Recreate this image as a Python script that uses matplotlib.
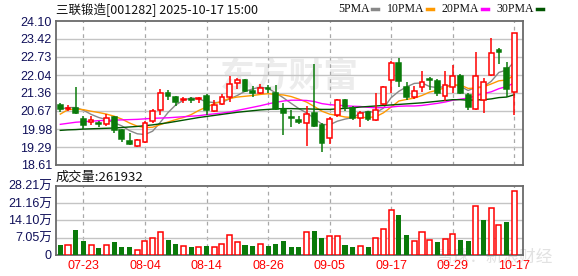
import matplotlib
matplotlib.use("Agg")
import matplotlib.pyplot as plt
from matplotlib.patches import Rectangle

plt.rcParams["font.family"] = ["Noto Sans CJK SC", "DejaVu Sans"]

TITLE = "三联锻造[001282] 2025-10-17 15:00"
VOLUME_TITLE = "成交量:261932"

dates = [
    "07-18", "07-21", "07-22", "07-23", "07-24", "07-25", "07-28", "07-29", "07-30", "07-31",
    "08-01", "08-04", "08-05", "08-06", "08-07", "08-08", "08-11", "08-12", "08-13", "08-14",
    "08-15", "08-18", "08-19", "08-20", "08-21", "08-22", "08-25", "08-26", "08-27", "08-28",
    "08-29", "09-01", "09-02", "09-03", "09-04", "09-05", "09-08", "09-09", "09-10", "09-11",
    "09-12", "09-15", "09-16", "09-17", "09-18", "09-19", "09-22", "09-23", "09-24", "09-25",
    "09-26", "09-29", "09-30", "10-09", "10-10", "10-13", "10-14", "10-15", "10-16", "10-17",
]
label_dates = ["07-23", "08-04", "08-14", "08-26", "09-05", "09-17", "09-29", "10-17"]

opens = [
    20.89, 20.76, 20.77, 20.37, 20.26, 20.20, 20.18, 20.43, 19.95, 19.51,
    19.35, 19.47, 20.30, 20.69, 21.35, 21.20, 21.07, 21.13, 21.12, 21.25,
    20.66, 20.94, 21.22, 21.74, 21.86, 21.45, 21.37, 21.55, 21.35, 20.74,
    20.45, 20.33, 20.20, 20.58, 20.13, 19.63, 20.51, 21.09, 20.78, 20.39,
    20.63, 20.33, 20.94, 21.86, 22.49, 21.58, 21.20, 21.58, 21.90, 21.82,
    21.25, 21.58, 22.00, 21.26, 20.74, 21.07, 22.04, 23.00, 22.32, 21.39,
]
highs = [
    20.99, 20.90, 21.58, 20.46, 20.46, 20.27, 20.56, 20.46, 19.97, 19.82,
    19.60, 20.27, 20.74, 21.50, 21.48, 21.25, 21.22, 21.20, 21.22, 21.30,
    21.09, 21.32, 22.01, 21.94, 21.88, 21.63, 21.71, 21.65, 21.67, 20.97,
    20.69, 20.46, 20.86, 22.46, 20.20, 20.43, 21.14, 21.12, 20.86, 20.65,
    20.66, 21.35, 21.63, 22.58, 22.69, 21.79, 21.63, 22.18, 21.95, 21.88,
    22.20, 22.42, 22.09, 21.35, 22.90, 21.91, 23.45, 23.08, 22.52, 23.64,
]
lows = [
    20.63, 20.68, 20.56, 19.98, 20.14, 20.04, 20.10, 19.82, 19.50, 19.37,
    19.31, 19.43, 20.23, 20.52, 21.07, 20.86, 20.97, 20.97, 20.97, 20.52,
    20.63, 20.89, 21.00, 21.50, 21.40, 21.22, 21.30, 21.35, 20.71, 19.77,
    20.05, 20.18, 19.35, 20.05, 19.09, 19.40, 20.43, 20.66, 20.33, 20.05,
    20.27, 20.28, 20.90, 21.37, 21.60, 21.07, 21.14, 21.41, 21.48, 21.25,
    21.06, 21.37, 21.32, 20.69, 20.71, 20.61, 22.01, 22.46, 21.20, 20.51,
]
closes = [
    20.76, 20.80, 20.58, 20.15, 20.31, 20.18, 20.41, 19.95, 19.62, 19.41,
    19.57, 20.23, 20.66, 21.35, 21.25, 21.03, 21.13, 21.09, 21.16, 20.69,
    20.89, 21.19, 21.71, 21.84, 21.45, 21.35, 21.53, 21.50, 20.76, 20.61,
    20.41, 20.24, 20.57, 20.10, 19.44, 20.35, 21.09, 20.81, 20.39, 20.61,
    20.38, 20.69, 21.58, 22.49, 21.83, 21.20, 21.43, 21.76, 21.85, 21.35,
    21.65, 22.00, 21.37, 20.81, 22.00, 21.79, 22.88, 22.91, 21.50, 23.64,
]
# volume in 万 shares
volumes = [
    4.07, 4.07, 10.17, 5.70, 3.93, 2.85, 3.93, 5.29, 3.25, 3.25,
    1.90, 5.70, 6.78, 9.22, 6.10, 4.47, 3.53, 3.25, 3.25, 3.66,
    3.12, 4.34, 8.00, 5.29, 4.07, 3.66, 4.34, 3.66, 4.47, 5.70,
    3.25, 3.25, 9.36, 9.76, 6.92, 7.73, 7.73, 4.07, 3.25, 3.53,
    3.25, 6.78, 10.44, 18.17, 16.27, 8.14, 5.70, 9.36, 6.10, 5.29,
    6.51, 8.54, 6.10, 5.70, 19.80, 14.24, 18.98, 12.20, 13.42, 26.19,
]
ma5 = [
    20.74, 20.80, 20.80, 20.70, 20.54, 20.42, 20.34, 20.22, 20.10, 19.92,
    19.80, 19.77, 19.90, 20.24, 20.61, 20.90, 21.08, 21.17, 21.13, 21.02,
    20.99, 21.00, 21.13, 21.26, 21.42, 21.51, 21.58, 21.53, 21.36, 21.17,
    20.96, 20.76, 20.60, 20.39, 20.16, 20.14, 20.28, 20.36, 20.42, 20.58,
    20.66, 20.60, 20.78, 21.18, 21.42, 21.59, 21.72, 21.74, 21.60, 21.56,
    21.60, 21.68, 21.61, 21.45, 21.57, 21.59, 21.80, 22.14, 22.23, 22.55,
]
ma10 = [
    20.55, 20.72, 20.74, 20.72, 20.66, 20.61, 20.55, 20.47, 20.36, 20.21,
    20.09, 20.04, 20.05, 20.15, 20.25, 20.34, 20.42, 20.53, 20.69, 20.82,
    20.95, 21.04, 21.15, 21.20, 21.23, 21.26, 21.30, 21.33, 21.30, 21.28,
    21.22, 21.12, 21.01, 20.84, 20.66, 20.55, 20.50, 20.44, 20.42, 20.42,
    20.42, 20.45, 20.60, 20.82, 21.05, 21.11, 21.16, 21.26, 21.39, 21.46,
    21.56, 21.66, 21.66, 21.53, 21.54, 21.59, 21.70, 21.82, 21.85, 22.04,
]
ma20 = [
    20.16, 20.20, 20.24, 20.26, 20.28, 20.30, 20.31, 20.32, 20.33, 20.34,
    20.35, 20.37, 20.39, 20.40, 20.41, 20.43, 20.45, 20.47, 20.49, 20.53,
    20.56, 20.59, 20.63, 20.69, 20.75, 20.81, 20.87, 20.94, 21.00, 21.05,
    21.08, 21.08, 21.07, 21.03, 20.95, 20.91, 20.89, 20.87, 20.85, 20.84,
    20.81, 20.79, 20.80, 20.82, 20.85, 20.86, 20.86, 20.88, 20.92, 20.96,
    21.01, 21.08, 21.12, 21.16, 21.25, 21.33, 21.40, 21.52, 21.60, 21.74,
]
ma30 = [
    19.93, 19.95, 19.96, 19.98, 19.99, 20.00, 20.01, 20.02, 20.04, 20.06,
    20.08, 20.11, 20.14, 20.18, 20.22, 20.27, 20.32, 20.37, 20.42, 20.46,
    20.50, 20.54, 20.58, 20.62, 20.65, 20.68, 20.71, 20.73, 20.75, 20.76,
    20.76, 20.75, 20.75, 20.74, 20.73, 20.73, 20.75, 20.77, 20.79, 20.82,
    20.84, 20.86, 20.88, 20.90, 20.92, 20.94, 20.96, 20.98, 21.01, 21.04,
    21.07, 21.10, 21.10, 21.08, 21.09, 21.10, 21.13, 21.18, 21.20, 21.29,
]
price_ticks = [18.61, 19.29, 19.98, 20.67, 21.36, 22.04, 22.73, 23.42, 24.10]
vol_ticks = [0, 7.05, 14.10, 21.16, 28.21]
vol_tick_labels = ["0", "7.05万", "14.10万", "21.16万", "28.21万"]

ma_series = [("5PMA", ma5, "#888888"), ("10PMA", ma10, "#ff9900"),
             ("20PMA", ma20, "#ff00ff"), ("30PMA", ma30, "#005500")]

RED = "#ff0000"
GREEN = "#0a7a0a"
LABEL = "#10105a"
GRID = "#c4c4c4"

fig = plt.figure(figsize=(5.78, 2.76), dpi=100)
ax = fig.add_axes([0.0969, 0.4022, 0.8074, 0.5217])
vax = fig.add_axes([0.0969, 0.0761, 0.8074, 0.2511])

x = list(range(len(dates)))
label_pos = [dates.index(d) for d in label_dates]

for a in (ax, vax):
    a.set_xlim(-0.56, 60.09)
    for p in label_pos:
        a.axvline(p, color="#a8a8a8", lw=0.9, ls=(0, (3, 3)), zorder=1)
    for s in a.spines.values():
        s.set_color("#6a6a6a")
        s.set_linewidth(1.3)
    a.tick_params(length=0, labelsize=9, colors=LABEL, pad=3)
    a.set_xticks([])

# watermark
ax.text(0.50, 0.62, "东方财富", transform=ax.transAxes, ha="center", va="center",
        fontsize=25, color="#ececec", zorder=0, fontweight="bold")

# price panel
ax.set_ylim(price_ticks[0], price_ticks[-1])
ax.set_yticks(price_ticks)
ax.set_yticklabels([f"{t:.2f}" for t in price_ticks], family="Liberation Sans")
for t in price_ticks[1:-1]:
    ax.axhline(t, color=GRID, lw=1.0, zorder=1)

w = 0.62
for i in x:
    o, h, l, c = opens[i], highs[i], lows[i], closes[i]
    up = c >= o
    col = RED if up else GREEN
    lo, hi = min(o, c), max(o, c)
    ax.plot([i, i], [hi, h], color=col, lw=1.1, zorder=4, solid_capstyle="butt")
    ax.plot([i, i], [l, lo], color=col, lw=1.1, zorder=4, solid_capstyle="butt")
    body = max(hi - lo, 0.025)
    if up:
        ax.add_patch(Rectangle((i - w / 2, lo), w, body, facecolor="white",
                               edgecolor=col, lw=1.1, zorder=5))
    else:
        ax.add_patch(Rectangle((i - w / 2, lo), w, body, facecolor=col,
                               edgecolor=col, lw=1.1, zorder=5))

for name, vals, col in ma_series:
    ax.plot(x, vals, color=col, lw=1.0, zorder=3)

fig.text(0.0969, 0.967, TITLE, ha="left", va="center", fontsize=9, color="#111111")

# legend
lx = 0.585
for name, vals, col in ma_series:
    t = fig.text(lx, 0.967, name, ha="left", va="center", fontsize=8.5,
                 color="#111111", family="Liberation Serif")
    fig.canvas.draw()
    bb = t.get_window_extent()
    x1 = bb.x1 / fig.bbox.width
    fig.add_artist(plt.Line2D([x1 + 0.004, x1 + 0.015], [0.967, 0.967], color=col, lw=2.5))
    lx = x1 + 0.030

# volume panel
vax.set_ylim(0, vol_ticks[-1])
vax.set_yticks(vol_ticks)
vax.set_yticklabels(vol_tick_labels)
for lab in vax.get_yticklabels():
    lab.set_fontfamily(["Liberation Sans", "Noto Sans CJK SC"])
for t in vol_ticks[1:-1]:
    vax.axhline(t, color=GRID, lw=1.0, zorder=1)

for i in x:
    prev = closes[i - 1] if i > 0 else closes[0] + 0.1
    up = closes[i] > prev
    if up:
        vax.bar(i, volumes[i], width=0.66, facecolor="white", edgecolor=RED, lw=1.1, zorder=3)
    else:
        vax.bar(i, volumes[i], width=0.66, color=GREEN, lw=0, zorder=3)

vax.text(0.0, 1.03, VOLUME_TITLE, transform=vax.transAxes, ha="left", va="bottom",
         fontsize=9.5, color="#111111")

for p, d in zip(label_pos, label_dates):
    vax.text(p, -0.07, d, transform=vax.get_xaxis_transform(), ha="center", va="top",
             fontsize=9, color=RED, family="Liberation Sans")

# faint source watermark across the lower right corner, behind the bars
vax.text(0.94, -0.03, "雪球：新浪财经", transform=vax.transAxes, ha="center",
         va="center", fontsize=12, color="#e2e2e2", zorder=2, clip_on=False)

fig.savefig("out.png", dpi=100)
